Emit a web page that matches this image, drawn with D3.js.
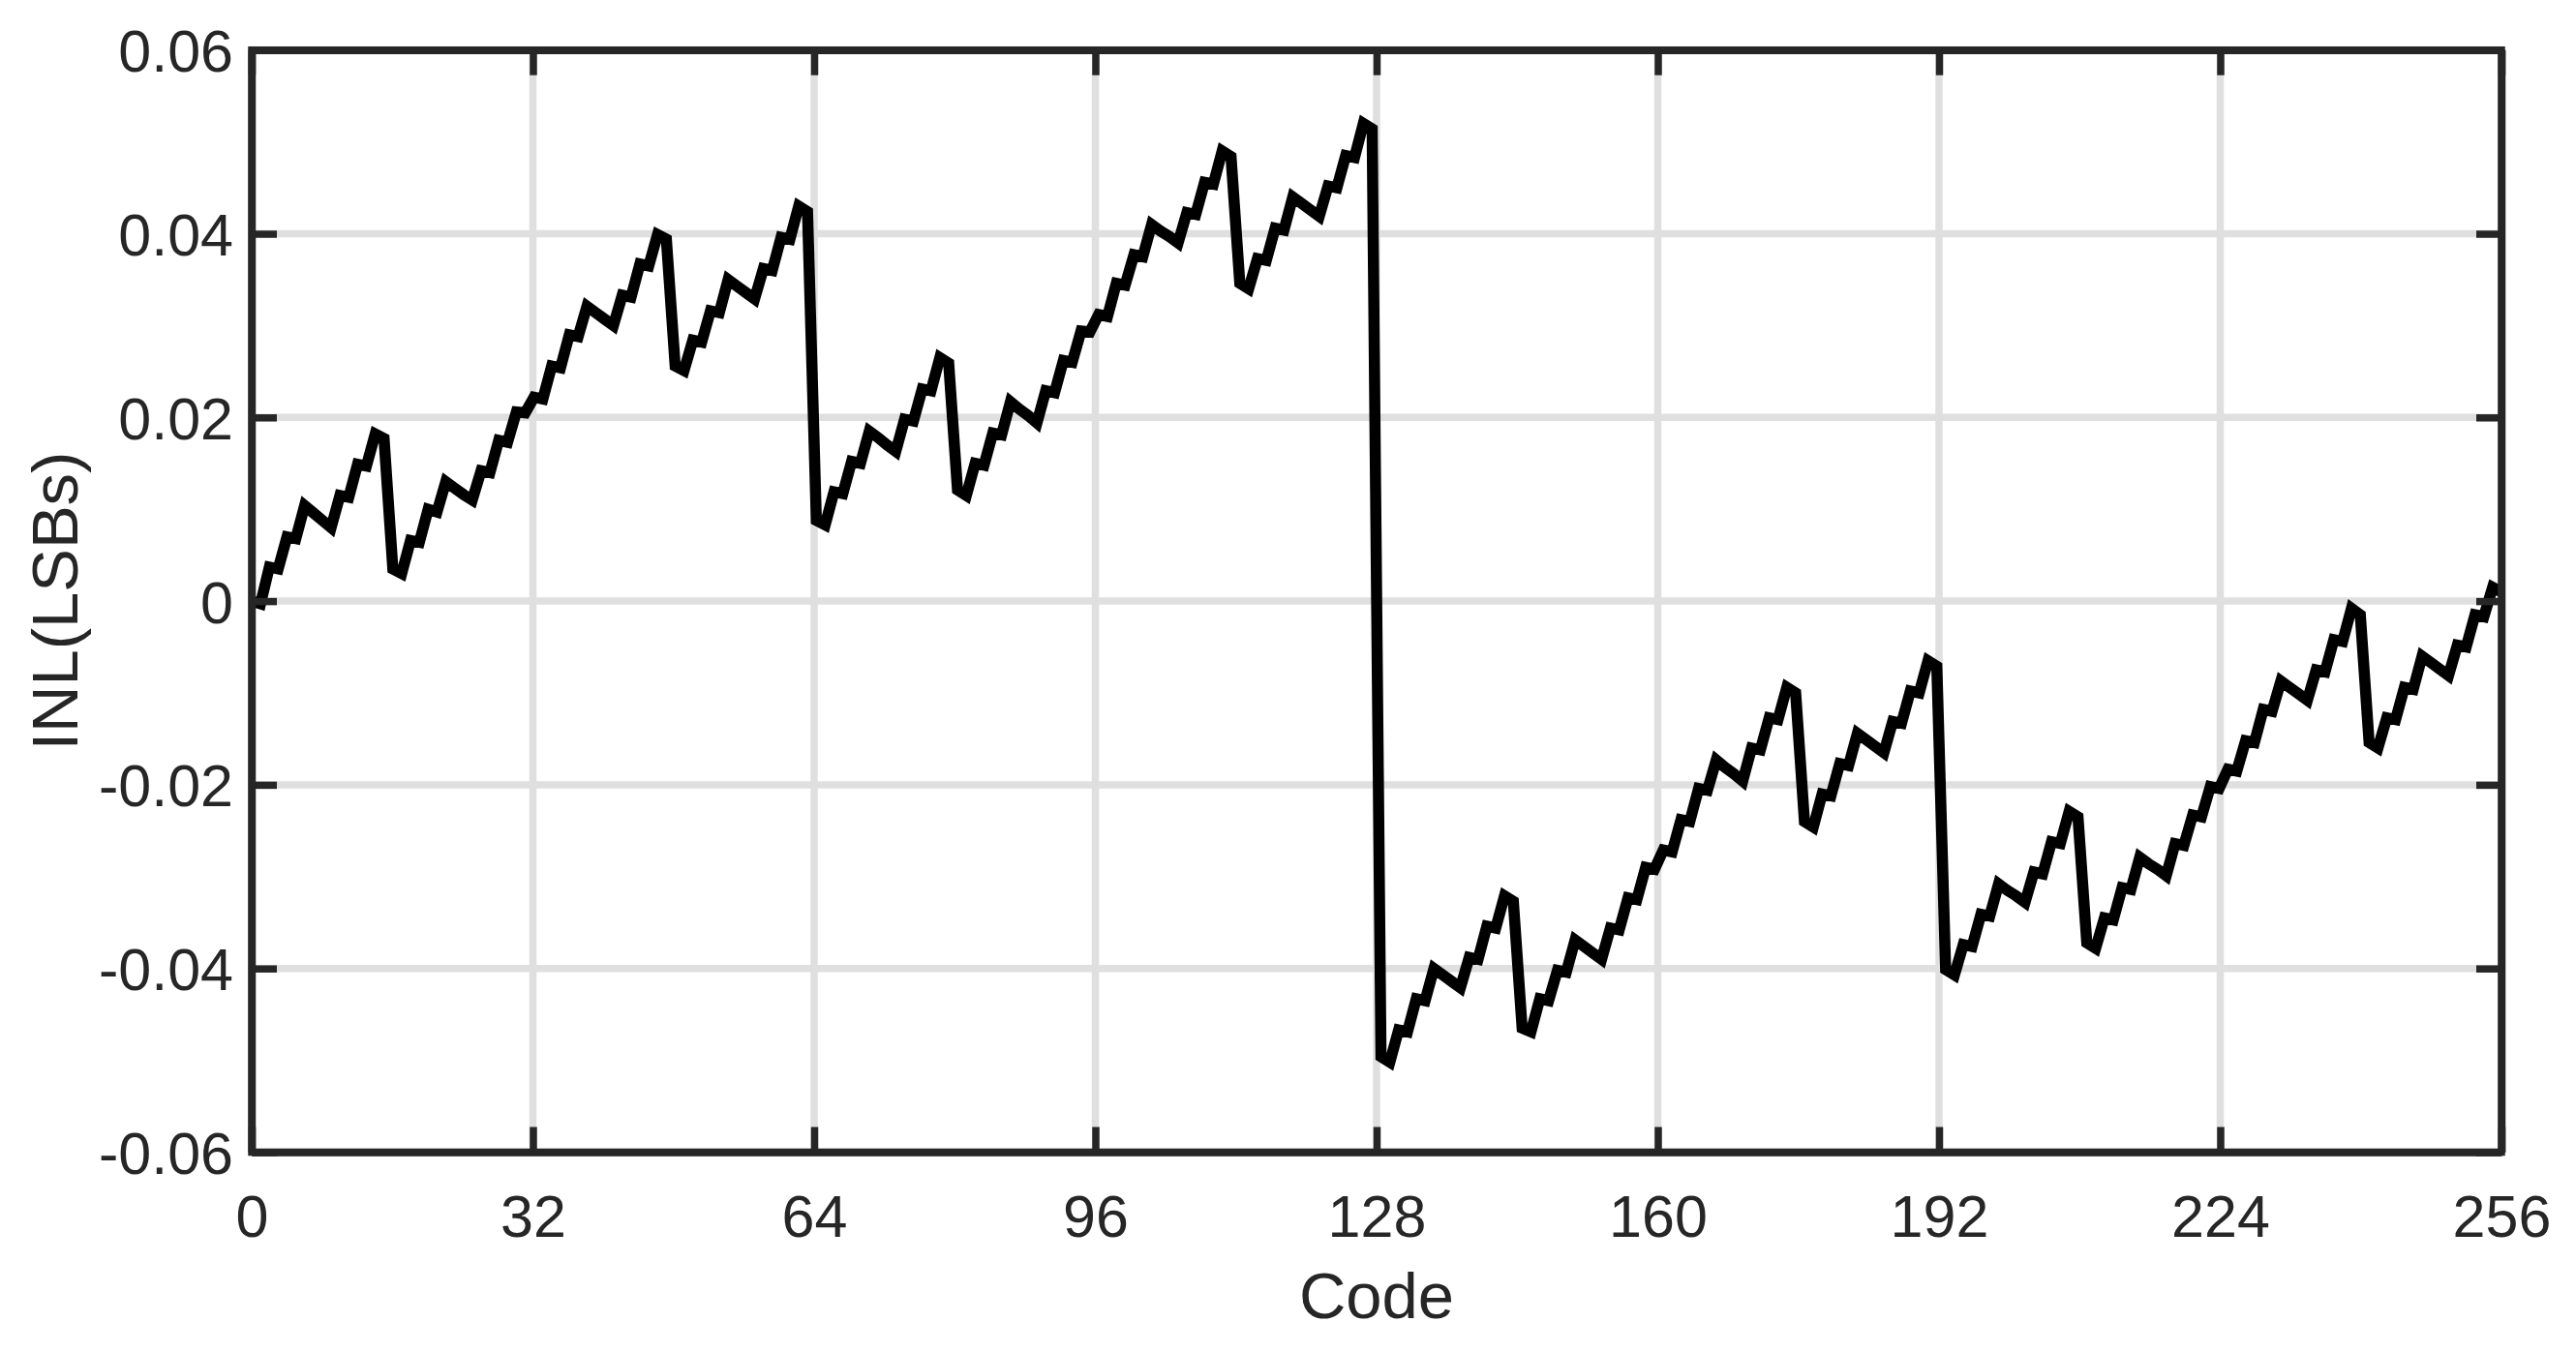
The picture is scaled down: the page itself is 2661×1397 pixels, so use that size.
<!DOCTYPE html>
<html>
<head>
<meta charset="utf-8">
<script src="https://cdn.jsdelivr.net/npm/d3@7"></script>
<style>
  html, body { margin: 0; padding: 0; background: #ffffff; }
  svg { display: block; }
</style>
</head>
<body>
<svg id="chart" width="2661" height="1397"></svg>
<script>
// ---------------- data ----------------
const xTickValues = [0, 32, 64, 96, 128, 160, 192, 224, 256];
const xTickLabels = ["0", "32", "64", "96", "128", "160", "192", "224", "256"];
const yTickValues = [-0.06, -0.04, -0.02, 0, 0.02, 0.04, 0.06];
const yTickLabels = ["-0.06", "-0.04", "-0.02", "0", "0.02", "0.04", "0.06"];
const xLabel = "Code";
const yLabel = "INL(LSBs)";

// INL samples (256 samples spanning code 0 .. 256)
const inlBlock01 = [0.0000, -0.0003, 0.0037, 0.0035, 0.0070, 0.0068, 0.0104, 0.0096, 0.0088, 0.0080, 0.0115, 0.0113, 0.0149, 0.0147, 0.0182, 0.0177];
const inlBlock02 = [0.0035, 0.0030, 0.0066, 0.0064, 0.0100, 0.0097, 0.0130, 0.0123, 0.0116, 0.0110, 0.0142, 0.0140, 0.0175, 0.0173, 0.0206, 0.0205];
const inlBlock03 = [0.0222, 0.0220, 0.0256, 0.0254, 0.0290, 0.0288, 0.0321, 0.0314, 0.0307, 0.0300, 0.0333, 0.0331, 0.0367, 0.0365, 0.0399, 0.0394];
const inlBlock04 = [0.0256, 0.0251, 0.0284, 0.0282, 0.0316, 0.0314, 0.0350, 0.0343, 0.0336, 0.0329, 0.0362, 0.0360, 0.0396, 0.0394, 0.0430, 0.0424];
const inlBlock05 = [0.0088, 0.0083, 0.0119, 0.0117, 0.0152, 0.0150, 0.0185, 0.0178, 0.0170, 0.0163, 0.0198, 0.0196, 0.0231, 0.0229, 0.0265, 0.0259];
const inlBlock06 = [0.0121, 0.0115, 0.0150, 0.0148, 0.0183, 0.0181, 0.0217, 0.0209, 0.0202, 0.0194, 0.0229, 0.0227, 0.0262, 0.0260, 0.0294, 0.0293];
const inlBlock07 = [0.0312, 0.0310, 0.0346, 0.0344, 0.0377, 0.0375, 0.0410, 0.0403, 0.0397, 0.0390, 0.0423, 0.0421, 0.0456, 0.0454, 0.0490, 0.0484];
const inlBlock08 = [0.0346, 0.0340, 0.0373, 0.0371, 0.0406, 0.0404, 0.0440, 0.0433, 0.0426, 0.0419, 0.0452, 0.0450, 0.0485, 0.0483, 0.0520, 0.0514];
const inlBlock09 = [-0.0496, -0.0502, -0.0467, -0.0469, -0.0433, -0.0435, -0.0400, -0.0407, -0.0414, -0.0421, -0.0388, -0.0390, -0.0354, -0.0356, -0.0321, -0.0327];
const inlBlock10 = [-0.0465, -0.0469, -0.0433, -0.0435, -0.0402, -0.0404, -0.0369, -0.0376, -0.0383, -0.0390, -0.0356, -0.0358, -0.0323, -0.0325, -0.0290, -0.0292];
const inlBlock11 = [-0.0271, -0.0273, -0.0238, -0.0240, -0.0204, -0.0206, -0.0173, -0.0181, -0.0188, -0.0196, -0.0160, -0.0162, -0.0127, -0.0129, -0.0094, -0.0100];
const inlBlock12 = [-0.0240, -0.0246, -0.0210, -0.0212, -0.0177, -0.0179, -0.0144, -0.0151, -0.0158, -0.0165, -0.0131, -0.0133, -0.0098, -0.0100, -0.0065, -0.0071];
const inlBlock13 = [-0.0401, -0.0407, -0.0374, -0.0376, -0.0341, -0.0343, -0.0308, -0.0315, -0.0321, -0.0328, -0.0295, -0.0297, -0.0262, -0.0264, -0.0229, -0.0235];
const inlBlock14 = [-0.0372, -0.0378, -0.0345, -0.0347, -0.0312, -0.0314, -0.0279, -0.0286, -0.0292, -0.0299, -0.0264, -0.0266, -0.0233, -0.0235, -0.0202, -0.0204];
const inlBlock15 = [-0.0183, -0.0185, -0.0152, -0.0154, -0.0118, -0.0120, -0.0087, -0.0094, -0.0101, -0.0108, -0.0075, -0.0077, -0.0042, -0.0044, -0.0008, -0.0015];
const inlBlock16 = [-0.0154, -0.0160, -0.0127, -0.0129, -0.0094, -0.0096, -0.0060, -0.0067, -0.0074, -0.0081, -0.0048, -0.0050, -0.0015, -0.0017, 0.0015, 0.0010];

const inlValues = [].concat(
  inlBlock01, inlBlock02, inlBlock03, inlBlock04,
  inlBlock05, inlBlock06, inlBlock07, inlBlock08,
  inlBlock09, inlBlock10, inlBlock11, inlBlock12,
  inlBlock13, inlBlock14, inlBlock15, inlBlock16
);
// samples are evenly spread over the code range 0..256
const codeMin = 0, codeMax = 256;

// ---------------- layout ----------------
const W = 2661, H = 1397;
const plot = { left: 260, right: 2584, top: 51.7, bottom: 1190.5 };
const axisColor = "#262626";
const gridColor = "#dfdfdf";
const fontFamily = "'Liberation Sans', Arial, Helvetica, sans-serif";
const tickFont = 61;
const labelFont = 67;
const axisWidth = 7.5;
const gridWidth = 7.5;
const lineWidth = 11.5;
const tickLen = 26;

const svg = d3.select("#chart");
svg.append("rect").attr("width", W).attr("height", H).attr("fill", "#ffffff");

const x = d3.scaleLinear().domain([codeMin, codeMax]).range([plot.left, plot.right]);
const y = d3.scaleLinear().domain([-0.06, 0.06]).range([plot.bottom, plot.top]);
const sampleX = d3.scaleLinear().domain([0, inlValues.length - 1]).range([codeMin, codeMax]);

// grid
const grid = svg.append("g");
grid.selectAll("line.gx").data(xTickValues).join("line")
  .attr("x1", d => x(d)).attr("x2", d => x(d))
  .attr("y1", plot.top).attr("y2", plot.bottom)
  .attr("stroke", gridColor).attr("stroke-width", gridWidth);
grid.selectAll("line.gy").data(yTickValues).join("line")
  .attr("y1", d => y(d)).attr("y2", d => y(d))
  .attr("x1", plot.left).attr("x2", plot.right)
  .attr("stroke", gridColor).attr("stroke-width", gridWidth);

// data line
const line = d3.line()
  .x((d, i) => x(sampleX(i)))
  .y(d => y(d));
svg.append("path")
  .datum(inlValues)
  .attr("d", line)
  .attr("fill", "none")
  .attr("stroke", "#000000")
  .attr("stroke-width", lineWidth)
  .attr("stroke-linejoin", "miter")
  .attr("stroke-miterlimit", 4);

// axes (box with inward ticks on all four sides)
const xAxisBottom = d3.axisBottom(x).tickValues(xTickValues).tickFormat((d, i) => xTickLabels[i])
  .tickSizeInner(-tickLen).tickSizeOuter(0).tickPadding(44);
const xAxisTop = d3.axisTop(x).tickValues(xTickValues).tickFormat("")
  .tickSizeInner(-tickLen).tickSizeOuter(0);
const yAxisLeft = d3.axisLeft(y).tickValues(yTickValues).tickFormat((d, i) => yTickLabels[i])
  .tickSizeInner(-tickLen).tickSizeOuter(0).tickPadding(19);
const yAxisRight = d3.axisRight(y).tickValues(yTickValues).tickFormat("")
  .tickSizeInner(-tickLen).tickSizeOuter(0);

function styleAxis(g) {
  g.selectAll(".domain").attr("stroke", axisColor).attr("stroke-width", axisWidth);
  g.selectAll(".tick line").attr("stroke", axisColor).attr("stroke-width", axisWidth);
  g.selectAll(".tick text")
    .attr("fill", axisColor)
    .style("font-family", fontFamily)
    .style("font-size", tickFont + "px");
  g.attr("font-family", null).attr("font-size", null);
}

svg.append("g").attr("transform", `translate(0,${plot.bottom})`).call(xAxisBottom).call(styleAxis)
  .selectAll(".tick text").attr("dy", "0.71em");
svg.append("g").attr("transform", `translate(0,${plot.top})`).call(xAxisTop).call(styleAxis);
svg.append("g").attr("transform", `translate(${plot.left},0)`).call(yAxisLeft).call(styleAxis)
  .selectAll(".tick text").attr("dy", "0.36em");
svg.append("g").attr("transform", `translate(${plot.right},0)`).call(yAxisRight).call(styleAxis);

// square the box corners
svg.append("rect")
  .attr("x", plot.left).attr("y", plot.top)
  .attr("width", plot.right - plot.left).attr("height", plot.bottom - plot.top)
  .attr("fill", "none").attr("stroke", axisColor).attr("stroke-width", axisWidth);

// axis labels
svg.append("text")
  .attr("x", (plot.left + plot.right) / 2).attr("y", 1362)
  .attr("text-anchor", "middle")
  .attr("fill", axisColor)
  .style("font-family", fontFamily).style("font-size", labelFont + "px")
  .text(xLabel);

svg.append("text")
  .attr("transform", `translate(80,${(plot.top + plot.bottom) / 2}) rotate(-90)`)
  .attr("text-anchor", "middle")
  .attr("fill", axisColor)
  .style("font-family", fontFamily).style("font-size", labelFont + "px")
  .text(yLabel);
</script>
</body>
</html>
